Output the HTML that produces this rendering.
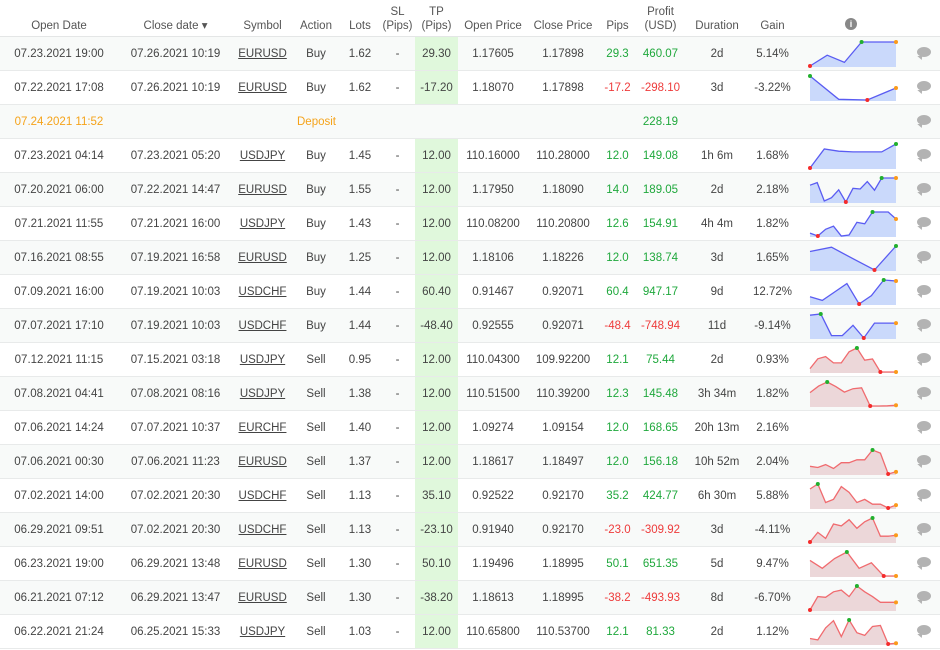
<!DOCTYPE html>
<html><head><meta charset="utf-8"><style>
body{margin:0;width:940px;height:650px;overflow:hidden;background:#fff;font-family:"Liberation Sans",sans-serif;color:#444;}
table{border-collapse:collapse;table-layout:fixed;width:940px;font-size:11.5px;}
th{font-weight:normal;color:#555;height:33px;box-sizing:content-box;vertical-align:bottom;padding:0 0 3px 0;line-height:14px;border-bottom:1px solid #e4e6e6;font-size:11.5px}
td{height:33px;text-align:center;padding:0;border-bottom:1px solid #e8eaea;white-space:nowrap}
tr.odd td{background:#f8faf9}
td.tp{background:#e0f8dc !important}
.sym{text-decoration:underline}
.g{color:#1fa83c}.r{color:#ee3b3b}.o{color:#f5a31a}
svg.sp{display:block;margin-left:13px}
.cm{display:inline-block;width:14px;height:10px;background:#b3b3b3;border-radius:50%;position:relative}
.cm:after{content:"";position:absolute;left:1px;bottom:-3px;border-left:3px solid transparent;border-right:2px solid transparent;border-top:4px solid #b3b3b3;transform:skewX(20deg)}
.info{display:inline-block;width:12px;height:12px;border-radius:50%;background:#888;color:#fff;font-size:9px;line-height:12px;font-weight:bold;margin-bottom:3px}
</style></head><body>
<table>
<colgroup><col style="width:118px"><col style="width:115px"><col style="width:59px"><col style="width:48px"><col style="width:40px"><col style="width:35px"><col style="width:43px"><col style="width:70px"><col style="width:70px"><col style="width:39px"><col style="width:47px"><col style="width:66px"><col style="width:45px"><col style="width:112px"><col style="width:33px"></colgroup>
<thead><tr>
<th>Open Date</th>
<th>Close date ▾</th>
<th>Symbol</th>
<th>Action</th>
<th>Lots</th>
<th>SL<br>(Pips)</th>
<th>TP<br>(Pips)</th>
<th>Open Price</th>
<th>Close Price</th>
<th>Pips</th>
<th>Profit<br>(USD)</th>
<th>Duration</th>
<th>Gain</th>
<th><span class="info">i</span></th>
<th></th>
</tr></thead>
<tbody id="tb">
<tr class="odd"><td>07.23.2021 19:00</td><td>07.26.2021 10:19</td><td class="sym">EURUSD</td><td>Buy</td><td>1.62</td><td>-</td><td class="tp">29.30</td><td>1.17605</td><td>1.17898</td><td class="g">29.3</td><td class="g">460.07</td><td>2d</td><td>5.14%</td><td class="ch"></td><td><span class="cm"></span></td></tr>
<tr><td>07.22.2021 17:08</td><td>07.26.2021 10:19</td><td class="sym">EURUSD</td><td>Buy</td><td>1.62</td><td>-</td><td class="tp">-17.20</td><td>1.18070</td><td>1.17898</td><td class="r">-17.2</td><td class="r">-298.10</td><td>3d</td><td>-3.22%</td><td class="ch"></td><td><span class="cm"></span></td></tr>
<tr class="odd"><td class="o">07.24.2021 11:52</td><td></td><td></td><td colspan="2" class="o" style="text-align:left;padding-left:5px">Deposit</td><td></td><td></td><td></td><td></td><td></td><td class="g">228.19</td><td></td><td></td><td class="nch"></td><td><span class="cm"></span></td></tr>
<tr><td>07.23.2021 04:14</td><td>07.23.2021 05:20</td><td class="sym">USDJPY</td><td>Buy</td><td>1.45</td><td>-</td><td class="tp">12.00</td><td>110.16000</td><td>110.28000</td><td class="g">12.0</td><td class="g">149.08</td><td>1h 6m</td><td>1.68%</td><td class="ch"></td><td><span class="cm"></span></td></tr>
<tr class="odd"><td>07.20.2021 06:00</td><td>07.22.2021 14:47</td><td class="sym">EURUSD</td><td>Buy</td><td>1.55</td><td>-</td><td class="tp">12.00</td><td>1.17950</td><td>1.18090</td><td class="g">14.0</td><td class="g">189.05</td><td>2d</td><td>2.18%</td><td class="ch"></td><td><span class="cm"></span></td></tr>
<tr><td>07.21.2021 11:55</td><td>07.21.2021 16:00</td><td class="sym">USDJPY</td><td>Buy</td><td>1.43</td><td>-</td><td class="tp">12.00</td><td>110.08200</td><td>110.20800</td><td class="g">12.6</td><td class="g">154.91</td><td>4h 4m</td><td>1.82%</td><td class="ch"></td><td><span class="cm"></span></td></tr>
<tr class="odd"><td>07.16.2021 08:55</td><td>07.19.2021 16:58</td><td class="sym">EURUSD</td><td>Buy</td><td>1.25</td><td>-</td><td class="tp">12.00</td><td>1.18106</td><td>1.18226</td><td class="g">12.0</td><td class="g">138.74</td><td>3d</td><td>1.65%</td><td class="ch"></td><td><span class="cm"></span></td></tr>
<tr><td>07.09.2021 16:00</td><td>07.19.2021 10:03</td><td class="sym">USDCHF</td><td>Buy</td><td>1.44</td><td>-</td><td class="tp">60.40</td><td>0.91467</td><td>0.92071</td><td class="g">60.4</td><td class="g">947.17</td><td>9d</td><td>12.72%</td><td class="ch"></td><td><span class="cm"></span></td></tr>
<tr class="odd"><td>07.07.2021 17:10</td><td>07.19.2021 10:03</td><td class="sym">USDCHF</td><td>Buy</td><td>1.44</td><td>-</td><td class="tp">-48.40</td><td>0.92555</td><td>0.92071</td><td class="r">-48.4</td><td class="r">-748.94</td><td>11d</td><td>-9.14%</td><td class="ch"></td><td><span class="cm"></span></td></tr>
<tr><td>07.12.2021 11:15</td><td>07.15.2021 03:18</td><td class="sym">USDJPY</td><td>Sell</td><td>0.95</td><td>-</td><td class="tp">12.00</td><td>110.04300</td><td>109.92200</td><td class="g">12.1</td><td class="g">75.44</td><td>2d</td><td>0.93%</td><td class="ch"></td><td><span class="cm"></span></td></tr>
<tr class="odd"><td>07.08.2021 04:41</td><td>07.08.2021 08:16</td><td class="sym">USDJPY</td><td>Sell</td><td>1.38</td><td>-</td><td class="tp">12.00</td><td>110.51500</td><td>110.39200</td><td class="g">12.3</td><td class="g">145.48</td><td>3h 34m</td><td>1.82%</td><td class="ch"></td><td><span class="cm"></span></td></tr>
<tr><td>07.06.2021 14:24</td><td>07.07.2021 10:37</td><td class="sym">EURCHF</td><td>Sell</td><td>1.40</td><td>-</td><td class="tp">12.00</td><td>1.09274</td><td>1.09154</td><td class="g">12.0</td><td class="g">168.65</td><td>20h 13m</td><td>2.16%</td><td class="nch"></td><td><span class="cm"></span></td></tr>
<tr class="odd"><td>07.06.2021 00:30</td><td>07.06.2021 11:23</td><td class="sym">EURUSD</td><td>Sell</td><td>1.37</td><td>-</td><td class="tp">12.00</td><td>1.18617</td><td>1.18497</td><td class="g">12.0</td><td class="g">156.18</td><td>10h 52m</td><td>2.04%</td><td class="ch"></td><td><span class="cm"></span></td></tr>
<tr><td>07.02.2021 14:00</td><td>07.02.2021 20:30</td><td class="sym">USDCHF</td><td>Sell</td><td>1.13</td><td>-</td><td class="tp">35.10</td><td>0.92522</td><td>0.92170</td><td class="g">35.2</td><td class="g">424.77</td><td>6h 30m</td><td>5.88%</td><td class="ch"></td><td><span class="cm"></span></td></tr>
<tr class="odd"><td>06.29.2021 09:51</td><td>07.02.2021 20:30</td><td class="sym">USDCHF</td><td>Sell</td><td>1.13</td><td>-</td><td class="tp">-23.10</td><td>0.91940</td><td>0.92170</td><td class="r">-23.0</td><td class="r">-309.92</td><td>3d</td><td>-4.11%</td><td class="ch"></td><td><span class="cm"></span></td></tr>
<tr><td>06.23.2021 19:00</td><td>06.29.2021 13:48</td><td class="sym">EURUSD</td><td>Sell</td><td>1.30</td><td>-</td><td class="tp">50.10</td><td>1.19496</td><td>1.18995</td><td class="g">50.1</td><td class="g">651.35</td><td>5d</td><td>9.47%</td><td class="ch"></td><td><span class="cm"></span></td></tr>
<tr class="odd"><td>06.21.2021 07:12</td><td>06.29.2021 13:47</td><td class="sym">EURUSD</td><td>Sell</td><td>1.30</td><td>-</td><td class="tp">-38.20</td><td>1.18613</td><td>1.18995</td><td class="r">-38.2</td><td class="r">-493.93</td><td>8d</td><td>-6.70%</td><td class="ch"></td><td><span class="cm"></span></td></tr>
<tr><td>06.22.2021 21:24</td><td>06.25.2021 15:33</td><td class="sym">USDJPY</td><td>Sell</td><td>1.03</td><td>-</td><td class="tp">12.00</td><td>110.65800</td><td>110.53700</td><td class="g">12.1</td><td class="g">81.33</td><td>2d</td><td>1.12%</td><td class="ch"></td><td><span class="cm"></span></td></tr>
</tbody></table>
<script>
const sparkSides = ["buy","buy","buy","buy","buy","buy","buy","buy","sell","sell","sell","sell","sell","sell","sell","sell"];
const spark1 = [0,4.5,1.5,10,10,10];
const spark2 = [10,0.3,0,5];
const spark3 = [0,7.9,7,6.7,6.7,6.7,10];
const spark4 = [7.0,8.1,0.4,1.8,5.1,0,5.7,5.4,8.5,4.9,10,10,10];
const spark5 = [1.2,0,2.8,4.1,0,0.4,5.7,5.1,10,10,10,7.1];
const spark6 = [7.7,9.5,4.7,0,10];
const spark7 = [3.0,1.5,5.0,8.5,0,3.5,10,9.6];
const spark8 = [9.5,10,1.0,1.0,5.3,0,6.2,6.2,6.2];
const spark9 = [1.4,5.5,6.4,3.8,3.8,8.4,10,4.9,5.4,0,0,0];
const spark10 = [5.6,8.3,10,8.1,5.8,7.2,7.6,0,0,0.1,0.3];
const spark11 = [3.2,2.7,3.9,2.3,4.7,4.7,5.9,5.9,10,8.7,0,0.9];
const spark12 = [7.9,10,2.3,3.6,8.9,6.5,2.3,3.6,1.6,1.6,0,1.2];
const spark13 = [0,4,1.5,7.5,6.7,9.3,5.7,8.4,10,2.4,2.4,2.8];
const spark14 = [6.5,3.2,7.3,10,3.2,5.5,0,0];
const spark15 = [0,5.6,5.3,7.6,8.3,5.6,10,7.6,5.6,3.2,3.2,3.2];
const spark16 = [2.3,1.7,6.7,9.7,3.1,10,4.7,3.6,7.3,7.7,0,0.3];
const sparks=[spark1,spark2,spark3,spark4,spark5,spark6,spark7,spark8,spark9,spark10,spark11,spark12,spark13,spark14,spark15,spark16];
const NS="http://www.w3.org/2000/svg";
const cells=document.querySelectorAll("td.ch");
cells.forEach((td,i)=>{
  const d=sparks[i]; if(!d) return;
  const buy=sparkSides[i]==="buy";
  const W=90,H=33,x0=2,x1=88,yT=5,yB=29;
  const mn=Math.min(...d),mx=Math.max(...d);
  const sx=k=>x0+(x1-x0)*k/(d.length-1);
  const sy=v=>yB-(yB-yT)*(v-mn)/((mx-mn)||1);
  const svg=document.createElementNS(NS,"svg");
  svg.setAttribute("width",W);svg.setAttribute("height",H);svg.setAttribute("class","sp");
  
  
  const pts=d.map((v,k)=>sx(k).toFixed(1)+","+sy(v).toFixed(1)).join(" ");
  const area=document.createElementNS(NS,"polygon");
  area.setAttribute("points",x0+","+(yB+1)+" "+pts+" "+x1+","+(yB+1));
  area.setAttribute("fill",buy?"#cad9fb":"#ecd7d9");
  
  
  svg.appendChild(area);
  const ln=document.createElementNS(NS,"polyline");
  ln.setAttribute("points",pts);ln.setAttribute("fill","none");
  ln.setAttribute("stroke",buy?"#5a5cf2":"#f06b6f");ln.setAttribute("stroke-width","1.3");
  
  
  svg.appendChild(ln);
  const iMin=d.indexOf(mn),iMax=d.indexOf(mx),iEnd=d.length-1;
  const marks=[[iMin,"#f52b2b"],[iMax,"#22b02e"]];
  if(iEnd!==iMin&&iEnd!==iMax) marks.push([iEnd,"#fb9a1a"]);
  marks.forEach(([k,c])=>{
    const dot=document.createElementNS(NS,"circle");
    dot.setAttribute("cx",sx(k));dot.setAttribute("cy",sy(d[k]));dot.setAttribute("r","2");dot.setAttribute("fill",c);
    
    
    svg.appendChild(dot);
  });
  td.appendChild(svg);
});
document.querySelectorAll(".cm").forEach(e=>{
  
  
});
document.querySelectorAll(".sym").forEach(e=>{
  
  
});
</script>
</body></html>
